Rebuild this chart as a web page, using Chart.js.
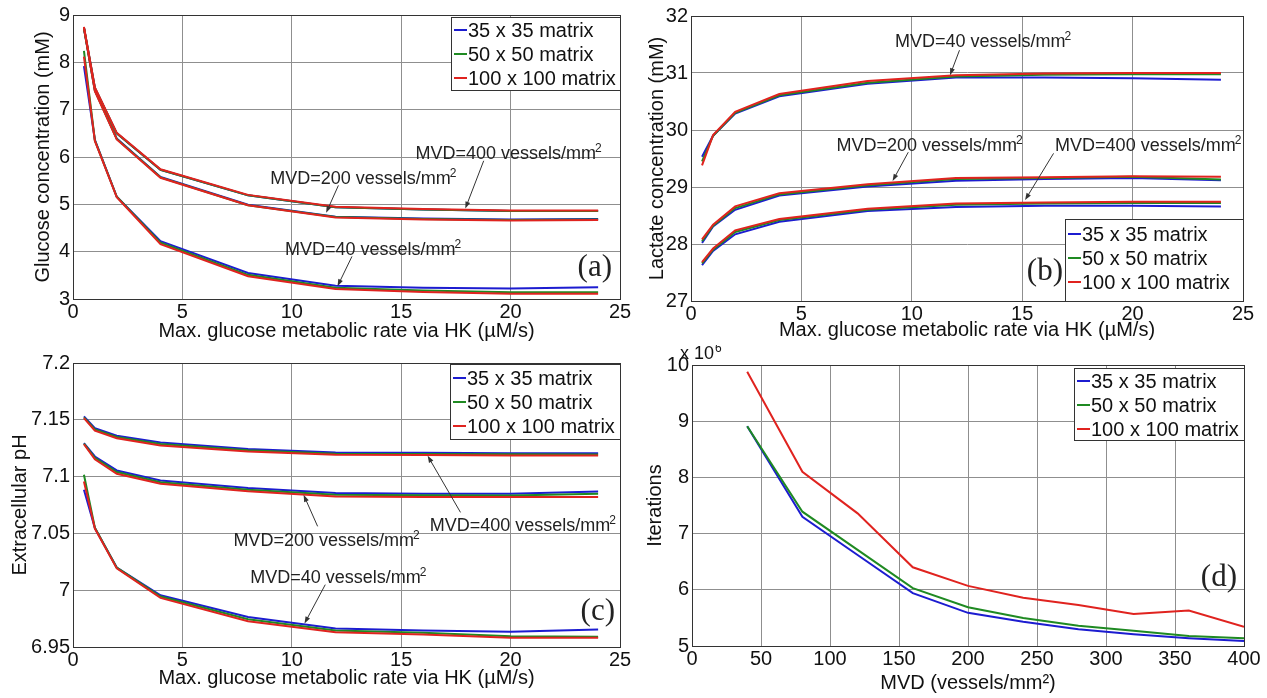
<!DOCTYPE html>
<html>
<head>
<meta charset="utf-8">
<script src="https://cdn.jsdelivr.net/npm/chart.js@4.4.1/dist/chart.umd.min.js"></script>
<style>
    html, body { margin: 0; padding: 0; background: #fff; }
    #wrap { position: relative; width: 1267px; height: 698px; overflow: hidden; background: #fff; }
    canvas { position: absolute; }
</style>
</head>
<body>
<div id="wrap">
    <canvas id="chartA" width="634" height="345" style="left:0;top:0"></canvas>
    <canvas id="chartB" width="633" height="345" style="left:634px;top:0"></canvas>
    <canvas id="chartC" width="634" height="353" style="left:0;top:345px"></canvas>
    <canvas id="chartD" width="633" height="353" style="left:634px;top:345px"></canvas>
</div>
<script>
// --- Data ---

// x axis for panels (a)-(c): max. glucose metabolic rate via HK (uM/s)
const rateHK = [0.5, 1, 2, 4, 8, 12, 16, 20, 24];

// (a) glucose concentration (mM)
const glucose40_35 = [7.92, 6.36, 5.16, 4.22, 3.55, 3.28, 3.24, 3.22, 3.25];
const glucose40_50 = [8.24, 6.35, 5.16, 4.19, 3.51, 3.24, 3.18, 3.14, 3.14];
const glucose40_100 = [8.12, 6.34, 5.15, 4.16, 3.48, 3.21, 3.15, 3.11, 3.11];
const glucose200_35 = [8.72, 7.41, 6.39, 5.58, 4.99, 4.74, 4.70, 4.68, 4.69];
const glucose200_50 = [8.72, 7.40, 6.38, 5.57, 4.98, 4.73, 4.69, 4.67, 4.68];
const glucose200_100 = [8.73, 7.39, 6.37, 5.56, 4.98, 4.72, 4.68, 4.66, 4.67];
const glucose400_35 = [8.74, 7.46, 6.50, 5.73, 5.19, 4.94, 4.89, 4.86, 4.86];
const glucose400_50 = [8.74, 7.46, 6.50, 5.73, 5.19, 4.94, 4.89, 4.86, 4.86];
const glucose400_100 = [8.75, 7.47, 6.51, 5.74, 5.20, 4.95, 4.90, 4.87, 4.87];

// (b) lactate concentration (mM)
const lactate40_35 = [29.53, 29.90, 30.29, 30.59, 30.81, 30.92, 30.92, 30.91, 30.88];
const lactate40_50 = [29.45, 29.90, 30.30, 30.61, 30.83, 30.94, 30.97, 30.98, 30.98];
const lactate40_100 = [29.38, 29.91, 30.32, 30.63, 30.86, 30.96, 30.99, 31.00, 31.00];
const lactate200_35 = [28.02, 28.31, 28.60, 28.85, 29.01, 29.11, 29.14, 29.16, 29.12];
const lactate200_50 = [28.05, 28.32, 28.63, 28.87, 29.03, 29.14, 29.16, 29.18, 29.13];
const lactate200_100 = [28.08, 28.34, 28.66, 28.89, 29.05, 29.16, 29.17, 29.19, 29.18];
const lactate400_35 = [27.63, 27.88, 28.17, 28.39, 28.58, 28.65, 28.67, 28.67, 28.66];
const lactate400_50 = [27.66, 27.90, 28.21, 28.42, 28.60, 28.69, 28.71, 28.72, 28.72];
const lactate400_100 = [27.68, 27.92, 28.24, 28.44, 28.62, 28.71, 28.73, 28.74, 28.74];

// (c) extracellular pH
const ph40_35 = [7.0884, 7.0547, 7.0200, 6.9955, 6.9765, 6.9663, 6.9645, 6.9634, 6.9654];
const ph40_50 = [7.1016, 7.0550, 7.0198, 6.9944, 6.9745, 6.9645, 6.9625, 6.9595, 6.9590];
const ph40_100 = [7.0957, 7.0543, 7.0192, 6.9932, 6.9727, 6.9630, 6.9610, 6.9581, 6.9581];
const ph200_35 = [7.1294, 7.1177, 7.1054, 7.0966, 7.0899, 7.0855, 7.0849, 7.0849, 7.0869];
const ph200_50 = [7.1290, 7.1165, 7.1040, 7.0950, 7.0884, 7.0840, 7.0835, 7.0834, 7.0850];
const ph200_100 = [7.1285, 7.1153, 7.1025, 7.0937, 7.0870, 7.0825, 7.0820, 7.0820, 7.0820];
const ph400_35 = [7.1530, 7.1426, 7.1359, 7.1300, 7.1242, 7.1212, 7.1210, 7.1205, 7.1206];
const ph400_50 = [7.1522, 7.1415, 7.1348, 7.1287, 7.1231, 7.1202, 7.1200, 7.1196, 7.1195];
const ph400_100 = [7.1514, 7.1404, 7.1338, 7.1273, 7.1220, 7.1192, 7.1190, 7.1186, 7.1185];

// (d) iterations (x 10^6) vs MVD
const mvdValues = [40, 80, 120, 160, 200, 240, 280, 320, 360, 400];
const iterations35 = [8.91, 7.30, 6.62, 5.94, 5.59, 5.43, 5.30, 5.21, 5.14, 5.09];
const iterations50 = [8.91, 7.39, 6.71, 6.03, 5.69, 5.50, 5.36, 5.27, 5.18, 5.14];
const iterations100 = [9.88, 8.10, 7.36, 6.40, 6.07, 5.86, 5.73, 5.57, 5.63, 5.34];

const matrixLabels = ['35 x 35 matrix', '50 x 50 matrix', '100 x 100 matrix'];
const matrixColors = ['#1c1cd0', '#1f8a22', '#e0231f'];

const SANS = '"Liberation Sans", Arial, sans-serif';
const SERIF = '"Liberation Serif", "Times New Roman", serif';

// --- Helpers ---

function toPoints(xs, ys) {
    return xs.map((x, i) => ({ x: x, y: ys[i] }));
}

// groups: one [35, 50, 100] triple per MVD curve
function buildDatasets(xs, groups) {
    const sets = [];
    groups.forEach(group => {
        group.forEach((ys, m) => {
            sets.push({
                label: matrixLabels[m],
                data: toPoints(xs, ys),
                borderColor: matrixColors[m],
                order: 2 - m // red on top
            });
        });
    });
    return sets;
}

function drawArrow(ctx, x0, y0, x1, y1) {
    const ang = Math.atan2(y1 - y0, x1 - x0);
    const len = 7, half = 2.5;
    ctx.strokeStyle = '#333';
    ctx.fillStyle = '#333';
    ctx.lineWidth = 1;
    ctx.beginPath();
    ctx.moveTo(x0, y0);
    ctx.lineTo(x1 - Math.cos(ang) * len * 0.6, y1 - Math.sin(ang) * len * 0.6);
    ctx.stroke();
    ctx.beginPath();
    ctx.moveTo(x1, y1);
    ctx.lineTo(x1 - Math.cos(ang) * len - Math.sin(ang) * half, y1 - Math.sin(ang) * len + Math.cos(ang) * half);
    ctx.lineTo(x1 - Math.cos(ang) * len + Math.sin(ang) * half, y1 - Math.sin(ang) * len - Math.cos(ang) * half);
    ctx.closePath();
    ctx.fill();
}

// axes box, legend, panel tag, MVD notes, exponent label
function decorPlugin(deco) {
    return {
        id: 'decor',
        afterDraw(chart) {
            const { ctx, chartArea: a, scales } = chart;
            const xs = scales.x, ys = scales.y;
            ctx.save();

            // notes with arrows
            (deco.notes || []).forEach(n => {
                const tx = xs.getPixelForValue(n.at[0]);
                const ty = ys.getPixelForValue(n.at[1]);
                const main = n.text + ' vessels/mm';
                ctx.font = '18px ' + SANS;
                ctx.fillStyle = '#222';
                ctx.textAlign = 'left';
                ctx.textBaseline = 'alphabetic';
                ctx.fillText(main, tx, ty);
                const w = ctx.measureText(main).width;
                ctx.font = '12px ' + SANS;
                ctx.fillText('2', tx + w - 1, ty - 7);
                drawArrow(ctx,
                    xs.getPixelForValue(n.from[0]), ys.getPixelForValue(n.from[1]),
                    xs.getPixelForValue(n.to[0]), ys.getPixelForValue(n.to[1]));
            });

            // axes box
            ctx.strokeStyle = '#333';
            ctx.lineWidth = 1;
            ctx.strokeRect(Math.round(a.left) + 0.5, Math.round(a.top) + 0.5,
                Math.round(a.right - a.left), Math.round(a.bottom - a.top));

            // legend
            const lg = deco.legend;
            const bx = Math.round(a.right) - lg.w;
            const by = lg.corner === 'top' ? Math.round(a.top) + lg.inset : Math.round(a.bottom) - lg.inset - lg.h;
            ctx.fillStyle = '#fff';
            ctx.fillRect(bx, by, lg.w, lg.h);
            ctx.strokeStyle = '#333';
            ctx.strokeRect(bx + 0.5, by + 0.5, lg.w, lg.h);
            matrixLabels.forEach((lab, i) => {
                const cy = by + lg.first + i * lg.gap;
                ctx.strokeStyle = matrixColors[i];
                ctx.lineWidth = 2;
                ctx.beginPath();
                ctx.moveTo(bx + 3, cy);
                ctx.lineTo(bx + 16, cy);
                ctx.stroke();
                ctx.fillStyle = '#111';
                ctx.font = '20px ' + SANS;
                ctx.textAlign = 'left';
                ctx.textBaseline = 'middle';
                ctx.fillText(lab, bx + 17, cy + 1);
            });

            // panel tag
            ctx.font = '31px ' + SERIF;
            ctx.fillStyle = '#222';
            ctx.textAlign = 'right';
            ctx.textBaseline = 'middle';
            ctx.fillText(deco.tag.text, a.right - deco.tag.dx, a.bottom - deco.tag.dy);

            // x 10^6 multiplier
            if (deco.exponent) {
                ctx.font = '18px ' + SANS;
                ctx.fillStyle = '#111';
                ctx.textAlign = 'left';
                ctx.textBaseline = 'alphabetic';
                const ex = a.left - 12, ey = a.top - 6;
                ctx.fillText('x 10', ex, ey);
                const w = ctx.measureText('x 10').width;
                ctx.font = '12px ' + SANS;
                ctx.fillText(deco.exponent, ex + w + 1, ey - 7);
            }
            ctx.restore();
        }
    };
}

function makePanel(id, geo, datasets, axes, deco) {
    const canvas = document.getElementById(id);
    const tickFont = { family: SANS, size: 20 };
    return new Chart(canvas, {
        type: 'line',
        data: { datasets: datasets },
        options: {
            responsive: false,
            animation: false,
            events: [],
            layout: { padding: { left: 0, top: geo.top, right: canvas.width - geo.right, bottom: 0 } },
            plugins: { legend: { display: false }, tooltip: { enabled: false } },
            elements: { point: { radius: 0 }, line: { borderWidth: 2, tension: 0 } },
            scales: {
                x: {
                    type: 'linear',
                    min: axes.xMin, max: axes.xMax,
                    ticks: { stepSize: axes.xStep, color: '#111', font: tickFont, padding: 1, maxRotation: 0, autoSkip: false },
                    grid: { color: '#8f8f8f', drawTicks: false },
                    border: { color: '#333' },
                    title: { display: true, text: axes.xTitle, color: '#111', font: { family: SANS, size: 20 }, padding: { top: 0, bottom: geo.xTitlePad } },
                    afterFit: s => { s.height = canvas.height - geo.bottom; }
                },
                y: {
                    type: 'linear',
                    min: axes.yMin, max: axes.yMax,
                    ticks: {
                        stepSize: axes.yStep, color: '#111', font: tickFont, padding: 3, autoSkip: false,
                        callback: v => String(+v.toFixed(2))
                    },
                    grid: { color: '#8f8f8f', drawTicks: false },
                    border: { color: '#333' },
                    title: { display: true, text: axes.yTitle, color: '#111', font: { family: SANS, size: 20 }, padding: { top: geo.yTitlePad, bottom: 0 } },
                    afterFit: s => { s.width = geo.left; }
                }
            }
        },
        plugins: [decorPlugin(deco)]
    });
}

// --- Panels ---
const xTitleHK = 'Max. glucose metabolic rate via HK (\u00b5M/s)';

makePanel('chartA',
    { left: 73, right: 620, top: 13, bottom: 299, xTitlePad: 2, yTitlePad: 31 },
    buildDatasets(rateHK, [
        [glucose40_35, glucose40_50, glucose40_100],
        [glucose200_35, glucose200_50, glucose200_100],
        [glucose400_35, glucose400_50, glucose400_100]
    ]),
    { xMin: 0, xMax: 25, xStep: 5, yMin: 3, yMax: 9, yStep: 1, xTitle: xTitleHK, yTitle: 'Glucose concentration (mM)' },
    {
        legend: { corner: 'top', inset: 2, w: 169, h: 73, first: 13, gap: 24 },
        tag: { text: '(a)', dx: 8, dy: 31 },
        notes: [
            { text: 'MVD=400', at: [15.65, 5.96], from: [18.77, 5.92], to: [17.93, 4.91] },
            { text: 'MVD=200', at: [9.01, 5.43], from: [12.13, 5.40], to: [11.57, 4.82] },
            { text: 'MVD=40', at: [9.69, 3.93], from: [12.75, 3.90], to: [12.09, 3.27] }
        ]
    });

makePanel('chartB',
    { left: 57, right: 609, top: 16, bottom: 301, xTitlePad: 3, yTitlePad: 11 },
    buildDatasets(rateHK, [
        [lactate40_35, lactate40_50, lactate40_100],
        [lactate200_35, lactate200_50, lactate200_100],
        [lactate400_35, lactate400_50, lactate400_100]
    ]),
    { xMin: 0, xMax: 25, xStep: 5, yMin: 27, yMax: 32, yStep: 1, xTitle: xTitleHK, yTitle: 'Lactate concentration (mM)' },
    {
        legend: { corner: 'bottom', inset: 0, w: 178, h: 82, first: 15, gap: 24 },
        tag: { text: '(b)', dx: 180, dy: 29 },
        notes: [
            { text: 'MVD=40', at: [9.24, 31.456], from: [12.16, 31.40], to: [11.73, 30.96] },
            { text: 'MVD=200', at: [6.59, 29.63], from: [9.84, 29.61], to: [9.13, 29.105] },
            { text: 'MVD=400', at: [16.49, 29.63], from: [16.42, 29.59], to: [15.13, 28.77] }
        ]
    });

makePanel('chartC',
    { left: 73, right: 620, top: 18, bottom: 302, xTitlePad: 8, yTitlePad: 8 },
    buildDatasets(rateHK, [
        [ph40_35, ph40_50, ph40_100],
        [ph200_35, ph200_50, ph200_100],
        [ph400_35, ph400_50, ph400_100]
    ]),
    { xMin: 0, xMax: 25, xStep: 5, yMin: 6.95, yMax: 7.2, yStep: 0.05, xTitle: xTitleHK, yTitle: 'Extracellular pH' },
    {
        legend: { corner: 'top', inset: 1, w: 170, h: 75, first: 14, gap: 24 },
        tag: { text: '(c)', dx: 5, dy: 35 },
        notes: [
            { text: 'MVD=400', at: [16.30, 7.0518], from: [17.71, 7.0685], to: [16.21, 7.1183] },
            { text: 'MVD=200', at: [7.33, 7.0386], from: [11.18, 7.0562], to: [10.54, 7.084] },
            { text: 'MVD=40', at: [8.10, 7.0064], from: [11.53, 7.0049], to: [10.58, 6.9706] }
        ]
    });

makePanel('chartD',
    { left: 58, right: 610, top: 20, bottom: 301, xTitlePad: 3, yTitlePad: 9 },
    buildDatasets(mvdValues, [[iterations35, iterations50, iterations100]]),
    { xMin: 0, xMax: 400, xStep: 50, yMin: 5, yMax: 10, yStep: 1, xTitle: 'MVD (vessels/mm\u00b2)', yTitle: 'Iterations' },
    {
        legend: { corner: 'top', inset: 3, w: 170, h: 72, first: 13, gap: 24 },
        tag: { text: '(d)', dx: 7, dy: 68 },
        exponent: '6'
    });
</script>
</body>
</html>
